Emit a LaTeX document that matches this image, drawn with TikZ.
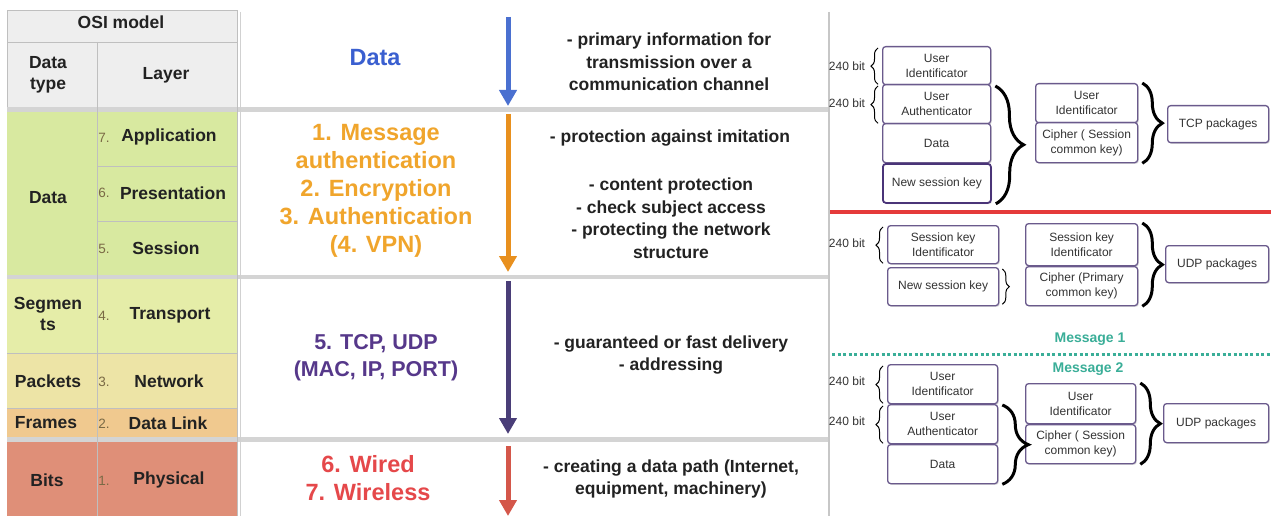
\documentclass[tikz,border=0pt]{standalone}
\usepackage{fontspec}
\setmainfont{Liberation Sans}
\usetikzlibrary{arrows.meta,decorations.pathreplacing,calc,shadows}
\newcommand\fsz[2]{\fontsize{#1}{#2}\selectfont}
\definecolor{hdr}{HTML}{EEEEEE}
\definecolor{sepc}{HTML}{D4D4D4}
\definecolor{gdata}{HTML}{D8E9A0}
\definecolor{gseg}{HTML}{E5EDA8}
\definecolor{gpack}{HTML}{EDE4A6}
\definecolor{gframe}{HTML}{F0C98F}
\definecolor{gbits}{HTML}{DF8F78}
\definecolor{cblue}{HTML}{3A5FD0}
\definecolor{corange}{HTML}{F0A52C}
\definecolor{cpurple}{HTML}{56388A}
\definecolor{cred}{HTML}{E5484A}
\definecolor{ablue}{HTML}{4A70D0}
\definecolor{aorange}{HTML}{E8901E}
\definecolor{apurple}{HTML}{4A3E78}
\definecolor{ared}{HTML}{D4574A}
\definecolor{boxc}{HTML}{6A5A8C}
\definecolor{boxd}{HTML}{4A3478}
\definecolor{boxt}{HTML}{333333}
\definecolor{txt}{HTML}{222222}
\definecolor{numc}{HTML}{7A6A45}
\definecolor{tealc}{HTML}{3AAE98}
\definecolor{redline}{HTML}{E53A3A}
\begin{document}
\begin{tikzpicture}[x=1pt,y=-1pt,
  lbl/.style={font=\fsz{17.5}{21}\bfseries, text=txt, align=center, inner sep=0},
  num/.style={font=\fsz{13.5}{15}, text=numc, inner sep=0},
  desc/.style={font=\fsz{17.5}{22.5}\bfseries, text=txt, align=center, inner sep=0},
  big/.style={font=\fsz{23.5}{28}\bfseries, align=center, inner sep=0},
  arr/.style={line width=5pt, -{Triangle[width=17pt,length=16pt]}},
  pbox/.style={draw=boxc, line width=1.3pt, rounded corners=3pt, fill=white, anchor=north west,
    inner sep=0, align=center, font=\fsz{12}{15}, text=boxt,
    drop shadow={shadow xshift=1.2pt, shadow yshift=-1.2pt, opacity=0.25}},
  bit/.style={font=\fsz{12}{14}, text=boxt, inner sep=0},
  bigbrace/.style={decorate, decoration={brace, amplitude=#1}, line width=3pt},
  smallbrace/.style={decorate, decoration={brace, amplitude=#1}, line width=1pt},
  cellline/.style={draw=black!25, line width=0.8pt}
]
\useasboundingbox (0,0) rectangle (1271,516);
\fill[white] (0,0) rectangle (1271,516);

% ---------- left table ----------
\filldraw[fill=hdr, cellline] (7,10) rectangle (237,42);
\filldraw[fill=hdr, cellline] (7,42) rectangle (97,107);
\filldraw[fill=hdr, cellline] (97,42) rectangle (237,107);
\fill[sepc] (7,107) rectangle (830,112);
\fill[gdata] (7,112) rectangle (237,275);
\draw[cellline] (97,166) -- (237,166) (97,221) -- (237,221);
\fill[sepc] (7,275) rectangle (830,279);
\fill[gseg] (7,279) rectangle (237,353);
\fill[gpack] (7,353) rectangle (237,408);
\fill[gframe] (7,408) rectangle (237,437);
\draw[cellline] (7,353) -- (237,353) (7,408) -- (237,408);
\fill[sepc] (7,437) rectangle (830,442);
\fill[gbits] (7,442) rectangle (237,516);
\draw[cellline] (97,42) -- (97,516);
\draw[cellline] (237,42) -- (237,516);

\node[lbl] (osi) at (121,22) {OSI model};
\node[lbl] (dtype) at (48,75) {Data\\type};
\node[lbl] (layer) at (166,75) {Layer};
\node[lbl] (ddata) at (48,198) {Data};
\node[lbl] (dseg) at (48,314) {Segmen\\ts};
\node[lbl] (dpack) at (48,381) {Packets};
\node[lbl] (dframe) at (46,423) {Frames};
\node[lbl] (dbits) at (47,480) {Bits};

\node[num] (n7) at (104,138) {7.};
\node[num] (n6) at (104,193) {6.};
\node[num] (n5) at (104,249) {5.};
\node[num] (n4) at (104,316) {4.};
\node[num] (n3) at (104,382) {3.};
\node[num] (n2) at (104,424) {2.};
\node[num] (n1) at (104,481) {1.};
\node[lbl] (l7) at (169,137) {Application};
\node[lbl] (l6) at (173,193) {Presentation};
\node[lbl] (l5) at (166,248) {Session};
\node[lbl] (l4) at (170,315) {Transport};
\node[lbl] (l3) at (169,381) {Network};
\node[lbl] (l2) at (168,423) {Data Link};
\node[lbl] (l1) at (169,480) {Physical};

% ---------- middle ----------
\draw[black!18, line width=1pt] (240,12) -- (240,516);
\draw[black!22, line width=1.5pt] (829,12) -- (829,516);

\node[big, text=cblue] (mdata) at (375,58) {Data};
\node[big, text=corange] (msec) at (376,191) {1. Message\\authentication\\2. Encryption\\3. Authentication\\(4. VPN)};
\node[big, text=cpurple, font=\fsz{21.5}{27}\bfseries] (mtcp) at (376,358) {5. TCP, UDP\\(MAC, IP, PORT)};
\node[big, text=cred] (mwire) at (368,478) {6. Wired\\7. Wireless};

\coordinate (a1s) at (508,17);  \coordinate (a1e) at (508,106);
\coordinate (a2s) at (508,114); \coordinate (a2e) at (508,272);
\coordinate (a3s) at (508,281); \coordinate (a3e) at (508,434);
\coordinate (a4s) at (508,446); \coordinate (a4e) at (508,516);
\draw[arr, ablue] (a1s) -- (a1e);
\draw[arr, aorange] (a2s) -- (a2e);
\draw[arr, apurple] (a3s) -- (a3e);
\draw[arr, ared] (a4s) -- (a4e);

\node[desc] (d1) at (669,62) {- primary information for\\transmission over a\\communication channel};
\node[desc] (d2a) at (670,138) {- protection against imitation};
\node[desc] (d2b) at (671,218) {- content protection\\- check subject access\\- protecting the network\\structure};
\node[desc] (d3) at (671,355) {- guaranteed or fast delivery\\- addressing};
\node[desc] (d4) at (671,479) {- creating a data path (Internet,\\equipment, machinery)};

% ---------- right: top group ----------
\node[pbox, minimum width=108pt, minimum height=38pt] (tui) at (882,46) {User\\Identificator};
\node[pbox, minimum width=108pt, minimum height=39pt] (tua) at (882,84) {User\\Authenticator};
\node[pbox, minimum width=108pt, minimum height=39pt] (tda) at (882,123) {Data};
\node[pbox, draw=boxd, line width=1.8pt, minimum width=108pt, minimum height=39pt] (tns) at (882,163) {New session key};
\node[pbox, minimum width=102pt, minimum height=39pt] (tui2) at (1035,83) {User\\Identificator};
\node[pbox, minimum width=102pt, minimum height=40pt] (tci) at (1035,122) {Cipher ( Session\\common key)};
\node[pbox, minimum width=101pt, minimum height=37pt] (tcp) at (1167,105) {TCP packages};

\node[bit] (tb1) at (847,66) {240 bit};
\node[bit] (tb2) at (847,103) {240 bit};
\draw[smallbrace=7pt] ($(tui.south west)+(-4,-1)$) -- ($(tui.north west)+(-4,2)$);
\draw[smallbrace=7pt] ($(tua.south west)+(-4,-1)$) -- ($(tua.north west)+(-4,2)$);
\draw[bigbrace=28pt] ($(tua.north east)+(4,2)$) -- ($(tns.south east)+(4,0)$);
\draw[bigbrace=20pt] ($(tui2.north east)+(4,0)$) -- ($(tci.south east)+(4,0)$);

\coordinate (rl1) at (830,212); \coordinate (rl2) at (1271,212);
\draw[redline, line width=3.5pt] (rl1) -- (rl2);

% ---------- right: middle group ----------
\node[pbox, minimum width=111pt, minimum height=38pt] (msk) at (887,225) {Session key\\Identificator};
\node[pbox, minimum width=111pt, minimum height=38pt] (mns) at (887,267) {New session key};
\node[pbox, minimum width=112pt, minimum height=42pt] (msk2) at (1025,223) {Session key\\Identificator};
\node[pbox, minimum width=112pt, minimum height=39pt] (mcp) at (1025,266) {Cipher (Primary\\common key)};
\node[pbox, minimum width=103pt, minimum height=37pt] (udp1) at (1165,245) {UDP packages};
\node[bit] (mb1) at (847,243) {240 bit};
\draw[smallbrace=7pt] ($(msk.south west)+(-4,-1)$) -- ($(msk.north west)+(-4,2)$);
\draw[smallbrace=7pt] ($(mns.north east)+(3,2)$) -- ($(mns.south east)+(3,-2)$);
\draw[bigbrace=20pt] ($(msk2.north east)+(4,0)$) -- ($(mcp.south east)+(4,0)$);

\node[font=\fsz{14}{16}\bfseries, text=tealc, inner sep=0] (msg1) at (1090,339) {Message 1};
\coordinate (tl1) at (832,354); \coordinate (tl2) at (1271,354);
\draw[tealc, line width=3pt, dash pattern=on 3pt off 2.5pt] (tl1) -- (tl2);
\node[font=\fsz{14}{16}\bfseries, text=tealc, inner sep=0] (msg2) at (1088,369) {Message 2};

% ---------- right: bottom group ----------
\node[pbox, minimum width=110pt, minimum height=39pt] (bui) at (887,364) {User\\Identificator};
\node[pbox, minimum width=110pt, minimum height=39pt] (bua) at (887,404) {User\\Authenticator};
\node[pbox, minimum width=110pt, minimum height=39pt] (bda) at (887,444) {Data};
\node[pbox, minimum width=110pt, minimum height=40pt] (bui2) at (1025,383) {User\\Identificator};
\node[pbox, minimum width=110pt, minimum height=39pt] (bci) at (1025,424) {Cipher ( Session\\common key)};
\node[pbox, minimum width=105pt, minimum height=39pt] (udp2) at (1163,403) {UDP packages};
\node[bit] (bb1) at (847,381) {240 bit};
\node[bit] (bb2) at (847,421) {240 bit};
\draw[smallbrace=7pt] ($(bui.south west)+(-4,-1)$) -- ($(bui.north west)+(-4,2)$);
\draw[smallbrace=7pt] ($(bua.south west)+(-4,-1)$) -- ($(bua.north west)+(-4,2)$);
\draw[bigbrace=26pt] ($(bua.north east)+(4,1)$) -- ($(bda.south east)+(4,0)$);
\draw[bigbrace=20pt] ($(bui2.north east)+(4,0)$) -- ($(bci.south east)+(4,0)$);
\end{tikzpicture}
\end{document}
